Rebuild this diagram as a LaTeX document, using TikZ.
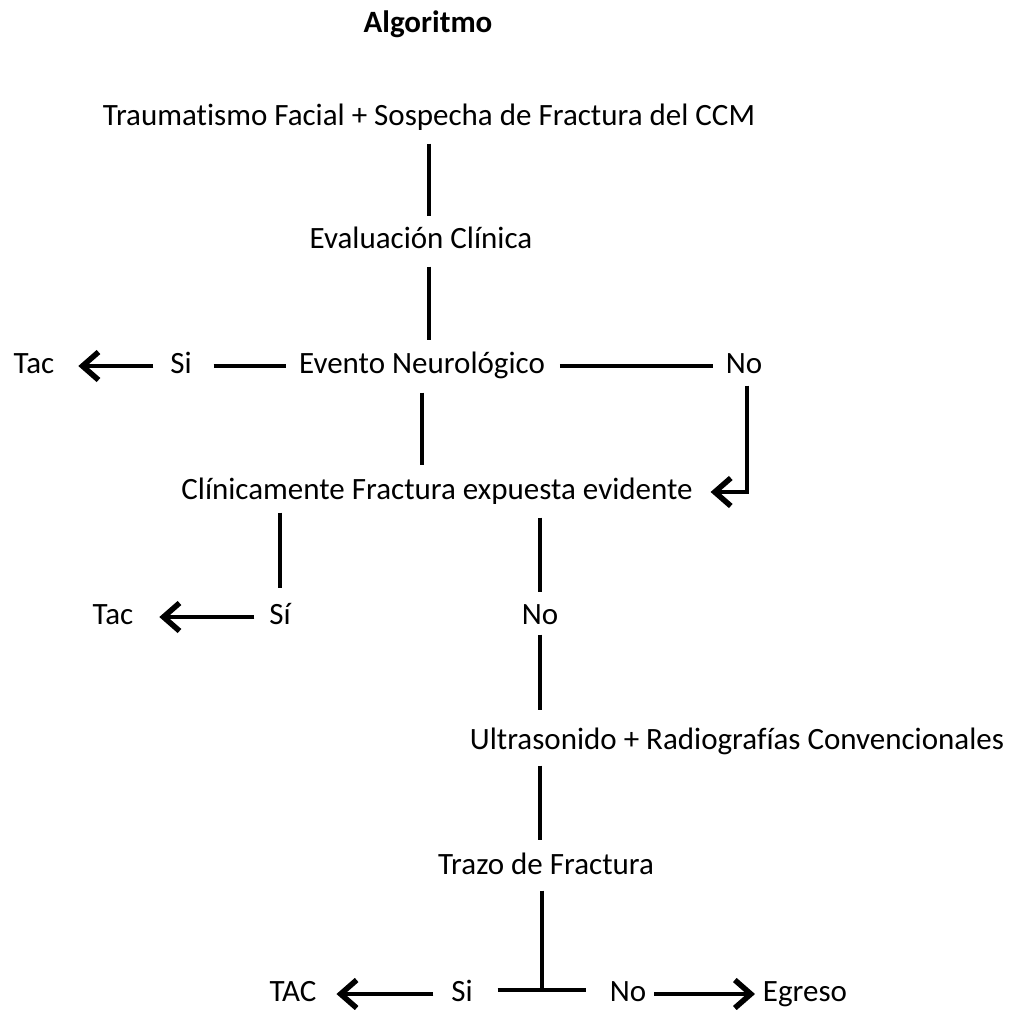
\documentclass[tikz,border=0pt]{standalone}
\usepackage{fontspec}
\setmainfont{Carlito}[Ligatures=NoCommon]
\usetikzlibrary{arrows.meta}
\begin{document}
\begin{tikzpicture}[x=1pt,y=-1pt,
  lbl/.style={inner sep=0pt, outer sep=0pt, font=\fontsize{31}{37}\selectfont, text height=21pt, text depth=6pt},
  ttl/.style={lbl, font=\bfseries\fontsize{31}{37}\selectfont},
  con/.style={line width=4.5pt},
  arr/.style={line width=4.5pt, -{Straight Barb[length=16pt,width=28pt,line width=5.5pt]}}]
\useasboundingbox[fill=white] (0,0) rectangle (1011,1009);
\node[ttl] (title) at (428,25) {Algoritmo};
\node[lbl] (trauma) at (429,118) {Traumatismo Facial + Sospecha de Fractura del CCM};
\node[lbl] (eval) at (421,241) {Evaluación Clínica};
\node[lbl] (evento) at (422,366) {Evento Neurológico};
\node[lbl] (si1) at (181,366) {Si};
\node[lbl] (tac1) at (34,366) {Tac};
\node[lbl] (no1) at (744,366) {No};
\node[lbl] (clin) at (437,492) {Clínicamente Fractura expuesta evidente};
\node[lbl] (si2) at (280,617) {Sí};
\node[lbl] (tac2) at (113,617) {Tac};
\node[lbl] (no2) at (540,617) {No};
\node[lbl] (ultra) at (737,742) {Ultrasonido + Radiografías Convencionales};
\node[lbl] (trazo) at (546,867) {Trazo de Fractura};
\node[lbl] (si3) at (462,994) {Si};
\node[lbl] (tac3) at (293,994) {TAC};
\node[lbl] (no3) at (628,994) {No};
\node[lbl] (egreso) at (805,994) {Egreso};
\coordinate (j) at (542,990);

\draw[con] ([yshift=-12pt]trauma.south) -- ([yshift=12pt]eval.north -| trauma.south);
\draw[con] ([yshift=-12pt]eval.south -| trauma.south) -- ([yshift=13pt]evento.north -| trauma.south);
\draw[con] ([yshift=-13pt]evento.south) -- ([yshift=14pt]clin.north -| evento.south);
\draw[con] ([xshift=15pt]evento.east |- evento.center) -- ([xshift=-13pt]no1.west);
\draw[con] ([xshift=22pt]si1.east) -- ([xshift=-13pt]evento.west);
\draw[arr] ([xshift=-17pt]si1.west) -- ([xshift=24pt]tac1.east);
\draw[arr] ([yshift=-6pt,xshift=3pt]no1.south) |- ([xshift=18pt]clin.east);
\draw[con] ([yshift=-7pt]clin.south -| si2) -- ([yshift=16pt]si2.north);
\draw[arr] ([xshift=-15pt]si2.west) -- ([xshift=26pt]tac2.east);
\draw[con] ([yshift=-12pt]clin.south -| no2) -- ([yshift=12pt]no2.north);
\draw[con] ([yshift=-4pt]no2.south) -- ([yshift=19pt]ultra.north -| no2.south);
\draw[con] ([yshift=-10pt]ultra.south -| no2.south) -- ([yshift=14pt]trazo.north -| no2.south);
\draw[con] ([yshift=-10pt]trazo.south -| j) -- (j);
\draw[con] ([xshift=25pt]si3.east |- j) -- ([xshift=-24pt]no3.west |- j);
\draw[arr] ([xshift=-18pt]si3.west) -- ([xshift=20pt]tac3.east);
\draw[arr] ([xshift=8pt]no3.east) -- ([xshift=-8pt]egreso.west);
\end{tikzpicture}
\end{document}
